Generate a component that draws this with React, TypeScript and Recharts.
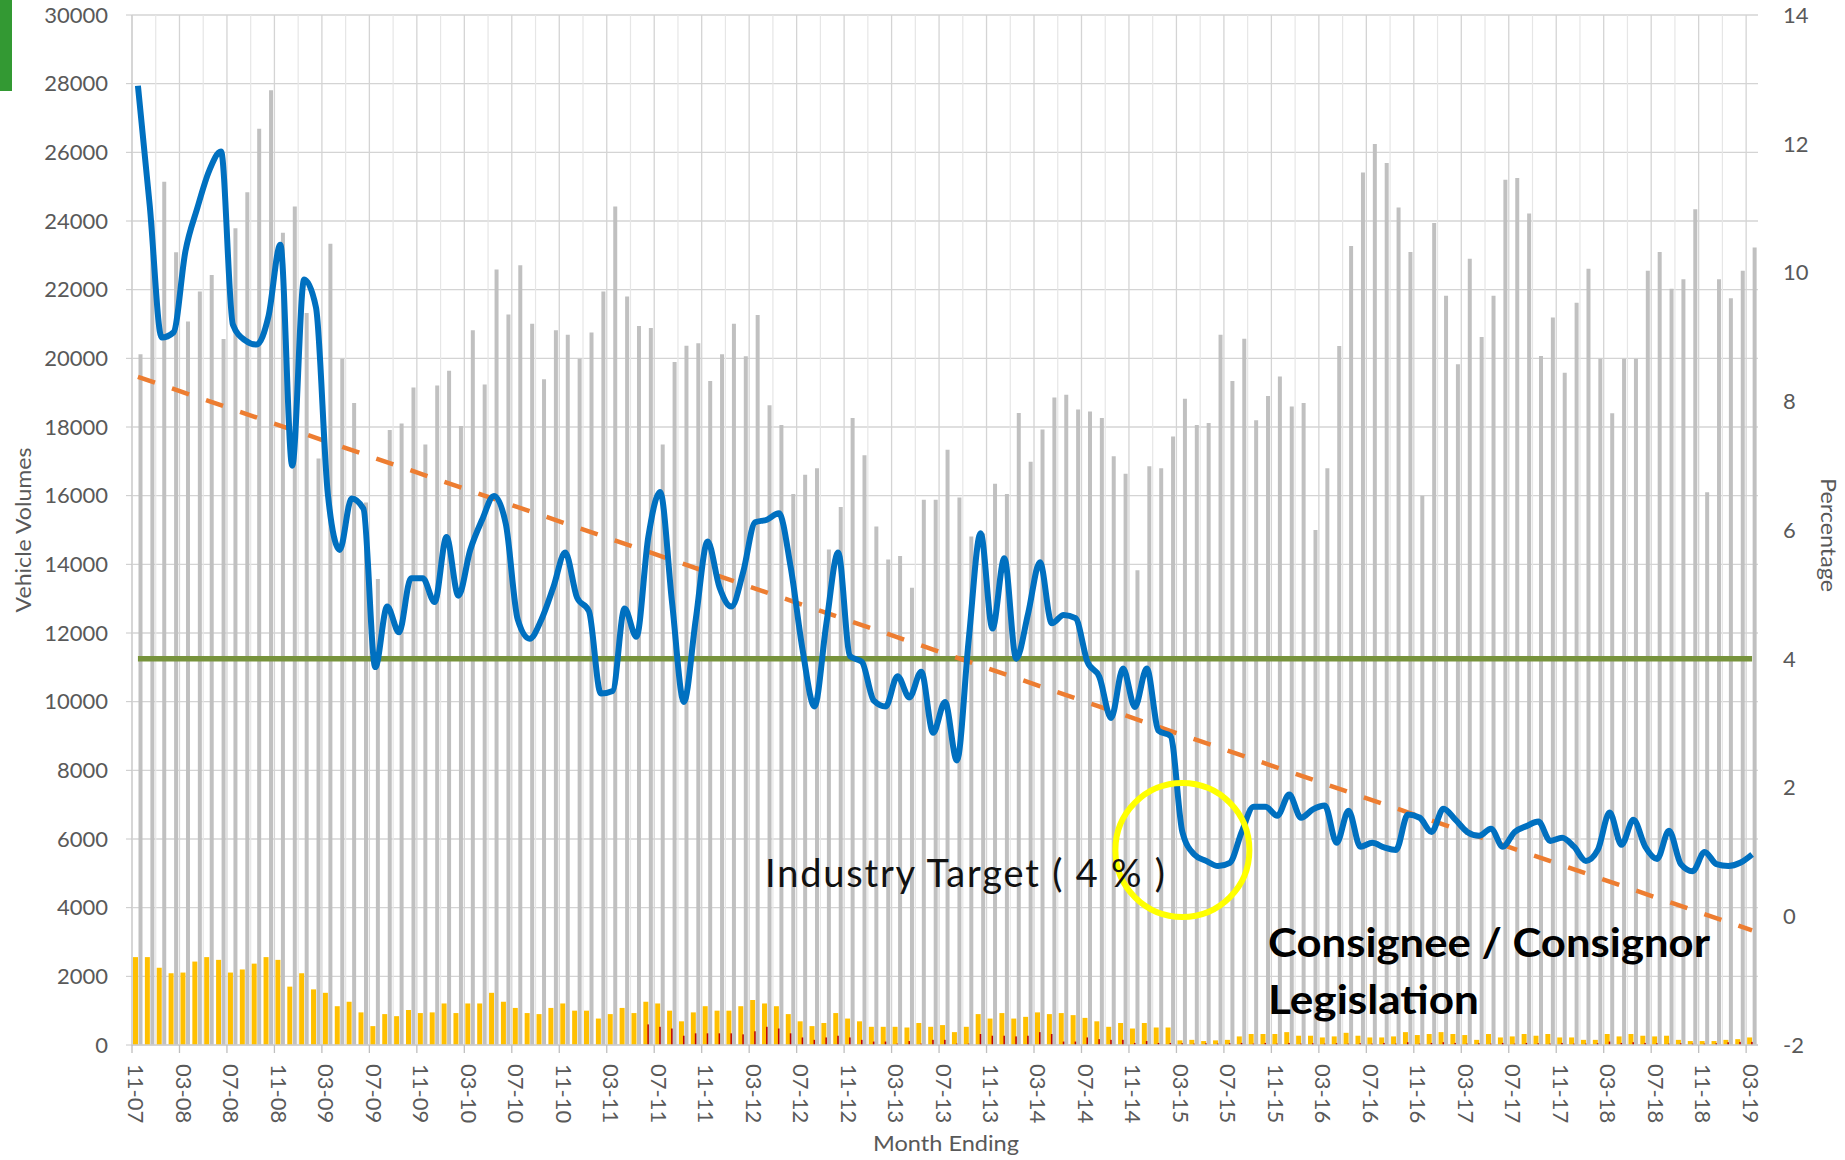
import React from "react";
import { ComposedChart, Bar, Line, XAxis, YAxis, CartesianGrid, ReferenceDot } from "recharts";

const MONTHS = [
  "11-07","12-07",
  "01-08","02-08","03-08","04-08","05-08","06-08","07-08","08-08","09-08","10-08","11-08","12-08",
  "01-09","02-09","03-09","04-09","05-09","06-09","07-09","08-09","09-09","10-09","11-09","12-09",
  "01-10","02-10","03-10","04-10","05-10","06-10","07-10","08-10","09-10","10-10","11-10","12-10",
  "01-11","02-11","03-11","04-11","05-11","06-11","07-11","08-11","09-11","10-11","11-11","12-11",
  "01-12","02-12","03-12","04-12","05-12","06-12","07-12","08-12","09-12","10-12","11-12","12-12",
  "01-13","02-13","03-13","04-13","05-13","06-13","07-13","08-13","09-13","10-13","11-13","12-13",
  "01-14","02-14","03-14","04-14","05-14","06-14","07-14","08-14","09-14","10-14","11-14","12-14",
  "01-15","02-15","03-15","04-15","05-15","06-15","07-15","08-15","09-15","10-15","11-15","12-15",
  "01-16","02-16","03-16","04-16","05-16","06-16","07-16","08-16","09-16","10-16","11-16","12-16",
  "01-17","02-17","03-17","04-17","05-17","06-17","07-17","08-17","09-17","10-17","11-17","12-17",
  "01-18","02-18","03-18","04-18","05-18","06-18","07-18","08-18","09-18","10-18","11-18","12-18",
  "01-19","02-19","03-19",
];

// Total vehicle volumes (grey bars, left axis)
const GRAY_VOLUMES = [
  20120, 24000, 25140, 23090, 21070, 21950, 22430, 20560, 23790, 24840,
  26690, 27810, 23660, 24420, 21320, 17080, 23340, 19990, 18700, 15800,
  13570, 17910, 18100, 19150, 17490, 19210, 19640, 18030, 20820, 19240,
  22590, 21280, 22710, 21010, 19390, 20820, 20690, 19990, 20750, 21950,
  24420, 21800, 20940, 20880, 17490, 19890, 20370, 20440, 19340, 20120,
  21010, 20060, 21260, 18630, 18060, 16050, 16610, 16800, 14430, 15670,
  18260, 17180, 15100, 14140, 14240, 13320, 15880, 15880, 17340, 15950,
  14810, 14900, 16350, 16050, 18410, 16990, 17930, 18860, 18940, 18510,
  18450, 18260, 17150, 16640, 13830, 16860, 16800, 17720, 18820, 18060,
  18120, 20690, 19340, 20570, 18200, 18900, 19470, 18600, 18700, 15000,
  16800, 20360, 23270, 25410, 26240, 25690, 24390, 23100, 16000, 23940,
  21820, 19830, 22900, 20620, 21820, 25200, 25250, 24220, 20070, 21190,
  19580, 21620, 22610, 19990, 18400, 19990, 19990, 22550, 23100, 22030,
  22300, 24340, 16100, 22300, 21750, 22550, 23230,
];

// Yellow bars (left axis)
const YELLOW_VOLUMES = [
  2560, 2560, 2250, 2090, 2110, 2430, 2560, 2480, 2110, 2200,
  2370, 2560, 2480, 1700, 2090, 1620, 1520, 1130, 1260, 950,
  550, 900, 840, 1020, 930, 950, 1210, 930, 1210, 1210,
  1520, 1260, 1080, 930, 900, 1080, 1210, 1000, 1000, 770,
  900, 1080, 930, 1260, 1210, 1000, 690, 950, 1130, 1000,
  1000, 1130, 1310, 1210, 1130, 900, 690, 550, 640, 930,
  770, 690, 530, 530, 530, 510, 640, 530, 580, 375,
  530, 900, 770, 930, 770, 820, 950, 900, 930, 870,
  790, 690, 530, 640, 480, 640, 510, 510, 135, 150,
  115, 135, 150, 250, 320, 320, 320, 375, 270, 270,
  220, 250, 355, 270, 220, 220, 250, 375, 290, 320,
  375, 320, 290, 150, 320, 220, 250, 320, 270, 320,
  220, 220, 150, 150, 320, 250, 320, 270, 250, 270,
  150, 115, 115, 115, 150, 170, 220,
];

// Red bars (left axis)
const RED_VOLUMES = [
  0, 0, 0, 0, 0, 0, 0, 0, 0, 0,
  0, 0, 0, 0, 0, 0, 0, 0, 0, 0,
  0, 0, 0, 0, 0, 0, 0, 0, 0, 0,
  0, 0, 0, 0, 0, 0, 0, 0, 0, 0,
  0, 0, 0, 600, 530, 480, 270, 340, 340, 340,
  340, 310, 400, 530, 480, 340, 220, 150, 220, 270,
  220, 150, 100, 100, 40, 115, 40, 150, 150, 40,
  40, 320, 270, 270, 250, 270, 375, 320, 100, 100,
  220, 170, 150, 150, 60, 115, 60, 60, 50, 40,
  50, 40, 50, 60, 40, 60, 40, 60, 40, 50,
  40, 50, 40, 50, 40, 60, 40, 80, 40, 60,
  80, 60, 40, 50, 40, 60, 40, 60, 50, 40,
  60, 40, 40, 50, 100, 60, 80, 60, 50, 40,
  50, 40, 40, 50, 80, 90, 90,
];

// Percentage (blue line, right axis)
const PERCENTAGE = [
  12.90, 11.03, 8.99, 9.07, 10.33, 11.00, 11.58, 11.88, 9.19, 8.95,
  8.88, 9.32, 10.43, 7.00, 9.89, 9.46, 6.56, 5.69, 6.49, 6.33,
  3.87, 4.81, 4.41, 5.25, 5.25, 4.88, 5.89, 4.98, 5.69, 6.16,
  6.53, 6.09, 4.61, 4.31, 4.61, 5.11, 5.65, 4.95, 4.74, 3.46,
  3.50, 4.78, 4.34, 5.89, 6.59, 4.88, 3.33, 4.61, 5.82, 5.11,
  4.81, 5.35, 6.12, 6.16, 6.26, 5.42, 4.14, 3.26, 4.54, 5.65,
  4.04, 3.95, 3.35, 3.26, 3.73, 3.40, 3.80, 2.85, 3.33, 2.42,
  4.30, 5.95, 4.47, 5.56, 4.00, 4.70, 5.50, 4.55, 4.68, 4.63,
  3.95, 3.72, 3.08, 3.85, 3.25, 3.85, 2.88, 2.80, 1.31, 0.96,
  0.86, 0.78, 0.83, 1.31, 1.70, 1.70, 1.56, 1.89, 1.53, 1.66,
  1.72, 1.14, 1.64, 1.08, 1.14, 1.07, 1.03, 1.58, 1.53, 1.31,
  1.67, 1.50, 1.31, 1.25, 1.36, 1.08, 1.31, 1.40, 1.47, 1.17,
  1.22, 1.08, 0.86, 1.03, 1.61, 1.11, 1.50, 1.08, 0.89, 1.33,
  0.81, 0.70, 1.00, 0.81, 0.78, 0.83, 0.96,
];

const TARGET_PCT = 4;
const TREND_START_PCT = 8.38;
const TREND_END_PCT = -0.22;
const CIRCLE_MONTH = "03-15";
const CIRCLE_PCT = 1.03;

const LEFT_TICKS = [0, 2000, 4000, 6000, 8000, 10000, 12000, 14000, 16000, 18000, 20000, 22000, 24000, 26000, 28000, 30000];
const LEFT_MINOR_TICKS = Array.from({ length: 61 }, (_, k) => k * 500);
const RIGHT_TICKS = [-2, 0, 2, 4, 6, 8, 10, 12, 14];

const N = MONTHS.length;
const data = MONTHS.map((m, i) => ({
  month: m,
  gray: GRAY_VOLUMES[i],
  yellow: YELLOW_VOLUMES[i],
  red: RED_VOLUMES[i],
  pct: PERCENTAGE[i],
  target: TARGET_PCT,
  trend: i === 0 ? TREND_START_PCT : i === N - 1 ? TREND_END_PCT : null,
}));

// layout
const W = 1845;
const H = 1160;
const M_TOP = 15;
const M_LEFT = 22;
const LEFT_AXIS_W = 110;
const RIGHT_AXIS_W = 87;
const X_AXIS_H = 115;
const PLOT_LEFT = M_LEFT + LEFT_AXIS_W;
const PLOT_W = W - PLOT_LEFT - RIGHT_AXIS_W;
const BAND = PLOT_W / N;

const FONT = "Lato, 'Open Sans', sans-serif";
const LABEL_COLOR = "#595959";

const majorV: number[] = [];
const minorV: number[] = [];
for (let k = 0; k < N; k += 2) {
  const x = PLOT_LEFT + k * BAND;
  if (k % 4 === 0) majorV.push(x);
  else minorV.push(x);
}

const XTick = (props: any) => {
  const { x, y, payload } = props;
  const bx = x - BAND / 2;
  return (
    <g>
      <line x1={bx} x2={bx} y1={y} y2={y + 8} stroke="#bfbfbf" strokeWidth={1.3} />
      <text
        transform={`translate(${x - 1},${y + 19}) rotate(90)`}
        textAnchor="start"
        dominantBaseline="central"
        fill={LABEL_COLOR}
        fontSize={22}
        fontFamily={FONT}
      >
        {payload.value}
      </text>
    </g>
  );
};

export default function App() {
  return (
    <div style={{ position: "absolute", left: 0, top: 0, width: W, height: H, background: "#fff", fontFamily: FONT }}>
      <div style={{ position: "absolute", left: 0, top: 0, width: 12, height: 91, background: "#339933" }} />
      <ComposedChart
        width={W}
        height={H}
        data={data}
        margin={{ top: M_TOP, right: 0, bottom: 0, left: M_LEFT }}
        barGap={-1}
      >
        <CartesianGrid yAxisId="left" stroke="#d4d4d4" strokeWidth={1.3} verticalPoints={majorV} />
        <CartesianGrid yAxisId="left" stroke="#e6e6e6" strokeWidth={1.2} horizontal={false} verticalPoints={minorV} />
        <XAxis
          dataKey="month"
          interval={3}
          tickLine={false}
          tickSize={0}
          tickMargin={0}
          height={X_AXIS_H}
          axisLine={{ stroke: "#cfcfcf", strokeWidth: 1.5 }}
          tick={(p: any) => <XTick {...p} />}
        />
        <YAxis
          yAxisId="minor"
          orientation="left"
          domain={[0, 30000]}
          ticks={LEFT_MINOR_TICKS}
          interval={0}
          width={0}
          tickSize={4}
          tick={false}
          tickLine={{ stroke: "#c8c8c8" }}
          axisLine={false}
          allowDataOverflow
        />
        <YAxis
          yAxisId="left"
          orientation="left"
          domain={[0, 30000]}
          ticks={LEFT_TICKS}
          interval={0}
          width={LEFT_AXIS_W}
          tickSize={6}
          tickMargin={18}
          tickLine={{ stroke: "#c8c8c8" }}
          axisLine={{ stroke: "#cfcfcf", strokeWidth: 1.3 }}
          tick={{ fill: LABEL_COLOR, fontSize: 22, fontFamily: FONT }}
          allowDataOverflow
        />
        <YAxis
          yAxisId="right"
          orientation="right"
          domain={[-2, 14]}
          ticks={RIGHT_TICKS}
          interval={0}
          width={RIGHT_AXIS_W}
          tickLine={false}
          tickSize={0}
          tickMargin={25}
          axisLine={false}
          tick={{ fill: LABEL_COLOR, fontSize: 22, fontFamily: FONT }}
          allowDataOverflow
        />
        <Bar yAxisId="left" dataKey="yellow" fill="#FFC000" barSize={5} isAnimationActive={false} />
        <Bar yAxisId="left" dataKey="red" fill="#C00000" barSize={2.5} isAnimationActive={false} />
        <Bar yAxisId="left" dataKey="gray" fill="#C0C0C0" barSize={4} isAnimationActive={false} />
        <Line
          yAxisId="right"
          dataKey="target"
          type="linear"
          stroke="#77933C"
          strokeWidth={5.5}
          dot={false}
          activeDot={false}
          isAnimationActive={false}
        />
        <Line
          yAxisId="right"
          dataKey="trend"
          type="linear"
          connectNulls
          stroke="#ED7D31"
          strokeWidth={4.5}
          strokeDasharray="18 18"
          dot={false}
          activeDot={false}
          isAnimationActive={false}
        />
        <Line
          yAxisId="right"
          dataKey="pct"
          type="monotone"
          stroke="#0070C0"
          strokeWidth={6}
          dot={false}
          activeDot={false}
          isAnimationActive={false}
        />
        <ReferenceDot
          yAxisId="right"
          x={CIRCLE_MONTH}
          y={CIRCLE_PCT}
          r={67}
          fill="none"
          stroke="#FFFF00"
          strokeWidth={6}
          ifOverflow="visible"
        />
      </ComposedChart>
      <svg width={W} height={H} style={{ position: "absolute", left: 0, top: 0, pointerEvents: "none" }}>
        <text
          transform="translate(31,530) rotate(-90)"
          textAnchor="middle"
          fill={LABEL_COLOR}
          fontSize={22}
          fontFamily={FONT}
          textLength={165}
          lengthAdjust="spacingAndGlyphs"
        >
          Vehicle Volumes
        </text>
        <text
          transform="translate(1821,535) rotate(90)"
          textAnchor="middle"
          fill={LABEL_COLOR}
          fontSize={22}
          fontFamily={FONT}
          textLength={114}
          lengthAdjust="spacingAndGlyphs"
        >
          Percentage
        </text>
        <text
          x={873}
          y={1151}
          fill={LABEL_COLOR}
          fontSize={22}
          fontFamily={FONT}
          textLength={146}
          lengthAdjust="spacingAndGlyphs"
        >
          Month Ending
        </text>
        <text
          x={765}
          y={887}
          fill="#111"
          fontSize={38}
          fontFamily={FONT}
          textLength={400}
          lengthAdjust="spacing"
        >
          Industry Target ( 4 % )
        </text>
        <text
          x={1268}
          y={957}
          fill="#000"
          fontSize={40}
          fontWeight={700}
          fontFamily={FONT}
          textLength={442}
          lengthAdjust="spacingAndGlyphs"
        >
          Consignee / Consignor
        </text>
        <text
          x={1268}
          y={1014}
          fill="#000"
          fontSize={40}
          fontWeight={700}
          fontFamily={FONT}
          textLength={211}
          lengthAdjust="spacingAndGlyphs"
        >
          Legislation
        </text>
      </svg>
    </div>
  );
}
